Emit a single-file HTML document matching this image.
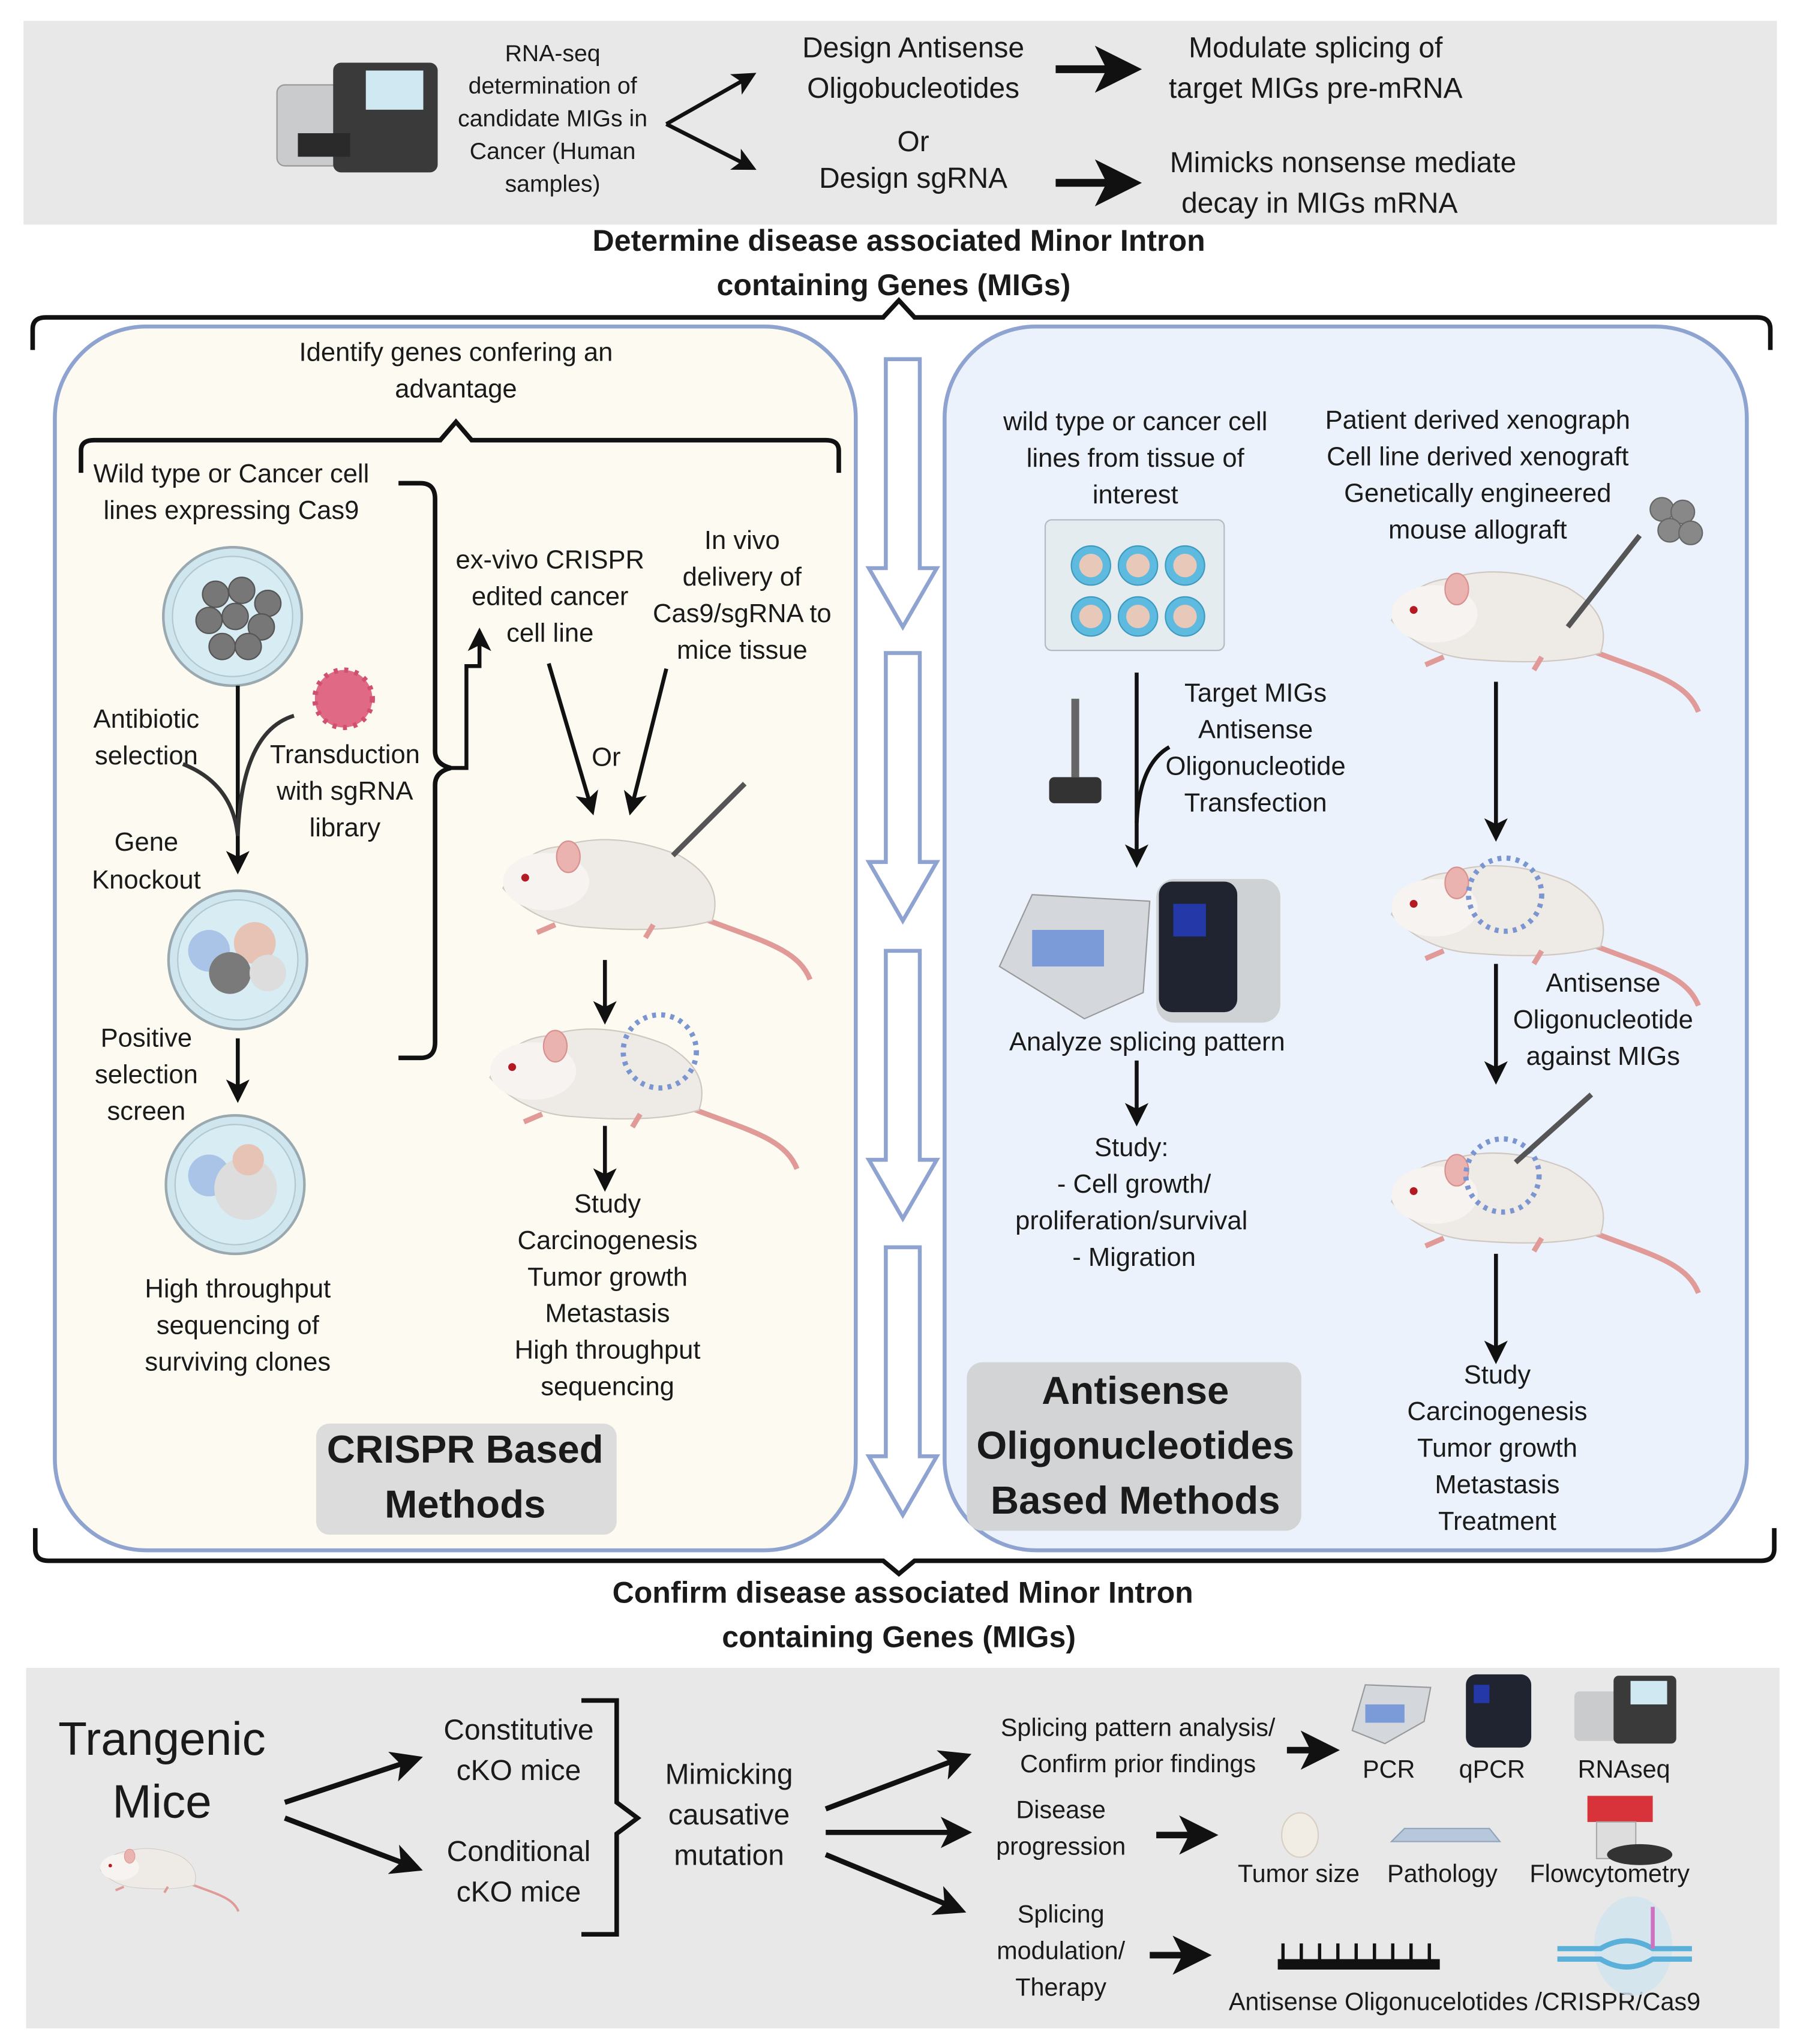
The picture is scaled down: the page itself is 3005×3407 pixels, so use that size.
<!DOCTYPE html>
<html><head><meta charset="utf-8"><style>
html,body{margin:0;padding:0;background:#fff}
svg{display:block}
text{font-family:"Liberation Sans",sans-serif;fill:#1a1a1a;dominant-baseline:middle;text-anchor:middle}
</style></head><body>
<svg width="3005" height="3407" viewBox="0 0 1380 1565" preserveAspectRatio="none" xmlns="http://www.w3.org/2000/svg">
<defs>
<marker id="ah" markerWidth="6" markerHeight="6" refX="4.5" refY="3" orient="auto" markerUnits="strokeWidth"><path d="M0,0 L6,3 L0,6 L1.5,3Z" fill="#111"/></marker>
<g id="mouse">
<path d="M60,20 C110,40 140,45 150,70" stroke="#e09a98" stroke-width="4" fill="none"/>
<path d="M-85,0 Q-70,-30 -40,-32 Q0,-45 50,-25 Q85,-5 75,25 Q40,35 -20,30 Q-60,28 -85,0Z" fill="#eeeae6" stroke="#d0c8c0"/>
<ellipse cx="-52" cy="-5" rx="33" ry="22" fill="#f6f3f0"/>
<ellipse cx="-35" cy="-24" rx="9" ry="12" fill="#eab3b0" stroke="#d8918e"/>
<circle cx="-68" cy="-8" r="3" fill="#b41a22"/>
<path d="M-45,28 l-14,6 M30,28 l-6,10" stroke="#e09a98" stroke-width="4"/>
</g>
<g id="dish">
<circle r="53" fill="#cfe6ef" stroke="#9aa9b0" stroke-width="2"/>
<circle r="46" fill="#d7ecf3" stroke="#b3c7cf" stroke-width="1"/>
</g>
<g id="hollow">
<path d="M13,0 H39 V160 H52 L26,205 L0,160 H13 Z" fill="#fff" stroke="#8fa3d0" stroke-width="3"/>
</g>
</defs>

<rect x="18" y="16" width="1342" height="156" fill="#e8e8e8"/>
<rect x="212" y="65" width="70" height="62" fill="#c9cbcd" stroke="#999" rx="6"/>
<rect x="255" y="48" width="80" height="84" fill="#3a3a3a" rx="6"/>
<rect x="280" y="54" width="44" height="30" fill="#cfe8f2"/>
<rect x="228" y="102" width="40" height="18" fill="#2a2a2a"/>
<g font-size="18">
<text x="423" y="42">RNA-seq</text><text x="423" y="67">determination of</text><text x="423" y="92">candidate MIGs in</text><text x="423" y="117">Cancer (Human</text><text x="423" y="142">samples)</text>
</g>
<g stroke="#111" stroke-width="3" marker-end="url(#ah)"><line x1="510" y1="95" x2="575" y2="58"/><line x1="510" y1="95" x2="575" y2="128"/></g>
<g font-size="22">
<text x="699" y="38">Design Antisense</text><text x="699" y="69">Oligobucleotides</text><text x="699" y="110">Or</text><text x="699" y="138">Design sgRNA</text>
<text x="1007" y="38">Modulate splicing of</text><text x="1007" y="69">target MIGs pre-mRNA</text>
<text x="1028" y="126">Mimicks nonsense mediate</text><text x="1010" y="157">decay in MIGs mRNA</text>
</g>
<g stroke="#111" stroke-width="6" marker-end="url(#ah)"><line x1="808" y1="53" x2="865" y2="53"/><line x1="808" y1="140" x2="865" y2="140"/></g>
<g font-size="23" font-weight="bold"><text x="688" y="186">Determine disease associated Minor Intron</text><text x="684" y="220">containing Genes (MIGs)</text></g>
<path d="M25,268 V252 Q25,243 35,243 H676 L688,230 L700,243 H1345 Q1355,243 1355,252 V268" fill="none" stroke="#111" stroke-width="3.5"/>

<rect x="42" y="250" width="613" height="937" rx="70" fill="#fdfbf1" stroke="#8fa3d0" stroke-width="3"/>
<rect x="723" y="250" width="614" height="937" rx="70" fill="#ecf2fb" stroke="#8fa3d0" stroke-width="3"/>
<use href="#hollow" x="665" y="275"/><use href="#hollow" x="665" y="500"/><use href="#hollow" x="665" y="728"/><use href="#hollow" x="665" y="955"/>

<g font-size="20">
<text x="349" y="271">Identify genes confering an</text><text x="349" y="299">advantage</text>
<text x="177" y="364">Wild type or Cancer cell</text><text x="177" y="392">lines expressing Cas9</text>
<text x="112" y="552">Antibiotic</text><text x="112" y="580">selection</text>
<text x="264" y="579">Transduction</text><text x="264" y="607">with sgRNA</text><text x="264" y="635">library</text>
<text x="112" y="646">Gene</text><text x="112" y="675">Knockout</text>
<text x="112" y="796">Positive</text><text x="112" y="824">selection</text><text x="112" y="852">screen</text>
<text x="182" y="988">High throughput</text><text x="182" y="1016">sequencing  of</text><text x="182" y="1044">surviving clones</text>
<text x="421" y="430">ex-vivo CRISPR</text><text x="421" y="458">edited cancer</text><text x="421" y="486">cell line</text>
<text x="568" y="415">In vivo</text><text x="568" y="443">delivery of</text><text x="568" y="471">Cas9/sgRNA to</text><text x="568" y="499">mice tissue</text>
<text x="464" y="581">Or</text>
<text x="465" y="923">Study</text><text x="465" y="951">Carcinogenesis</text><text x="465" y="979">Tumor growth</text><text x="465" y="1007">Metastasis</text><text x="465" y="1035">High throughput</text><text x="465" y="1063">sequencing</text>
</g>
<path d="M62,362 V345 Q62,337 72,337 H337 L349,323 L361,337 H632 Q642,337 642,345 V362" fill="none" stroke="#111" stroke-width="3.5"/>
<path d="M305,370 H322 Q333,370 333,382 V575 Q333,585 345,588 Q333,591 333,601 V798 Q333,810 322,810 H305" fill="none" stroke="#111" stroke-width="3.5"/>
<path d="M345,588 H357 V510 H367 V485" fill="none" stroke="#111" stroke-width="3" marker-end="url(#ah)"/>
<use href="#dish" x="178" y="472"/>
<g fill="#777" stroke="#555"><circle cx="165" cy="455" r="10"/><circle cx="185" cy="452" r="10"/><circle cx="205" cy="462" r="10"/><circle cx="160" cy="475" r="10"/><circle cx="180" cy="472" r="10"/><circle cx="200" cy="480" r="10"/><circle cx="170" cy="495" r="10"/><circle cx="190" cy="495" r="10"/></g>
<use href="#dish" x="182" y="735"/><circle cx="160" cy="728" r="16" fill="#a9c4e6"/><circle cx="195" cy="722" r="16" fill="#e6c3b5"/><circle cx="176" cy="745" r="16" fill="#7a7a7a"/><circle cx="205" cy="745" r="14" fill="#ddd"/>
<use href="#dish" x="180" y="907"/><circle cx="160" cy="900" r="16" fill="#a9c4e6"/><circle cx="188" cy="910" r="24" fill="#ddd"/><circle cx="190" cy="888" r="12" fill="#e6c3b5"/>
<circle cx="263" cy="535" r="22" fill="#e06a86" stroke="#d0506e" stroke-width="4" stroke-dasharray="3 5"/>
<path d="M182,525 V665" stroke="#111" stroke-width="3" marker-end="url(#ah)"/>
<path d="M225,548 Q185,560 182,640 M140,585 Q178,600 182,640" stroke="#333" stroke-width="3" fill="none"/>
<path d="M182,795 V840" stroke="#111" stroke-width="3" marker-end="url(#ah)"/>
<g stroke="#111" stroke-width="3" marker-end="url(#ah)"><line x1="420" y1="508" x2="453" y2="620"/><line x1="510" y1="512" x2="483" y2="620"/><line x1="463" y1="735" x2="463" y2="780"/><line x1="463" y1="862" x2="463" y2="908"/></g>
<use href="#mouse" x="470" y="680"/>
<line x1="515" y1="655" x2="570" y2="600" stroke="#555" stroke-width="4"/>
<use href="#mouse" x="460" y="825"/>
<circle cx="505" cy="805" r="28" fill="none" stroke="#7b95d0" stroke-width="4" stroke-dasharray="3 4"/>
<rect x="242" y="1090" width="230" height="85" rx="10" fill="#dcdcdc"/>
<g font-size="30" font-weight="bold"><text x="356" y="1112">CRISPR Based</text><text x="356" y="1154">Methods</text></g>

<g font-size="20">
<text x="869" y="324">wild type or cancer cell</text><text x="869" y="352">lines from tissue of</text><text x="869" y="380">interest</text>
<text x="1131" y="323">Patient derived xenograph</text><text x="1131" y="351">Cell line derived xenograft</text><text x="1131" y="379">Genetically engineered</text><text x="1131" y="407">mouse allograft</text>
<text x="961" y="532">Target MIGs</text><text x="961" y="560">Antisense</text><text x="961" y="588">Oligonucleotide</text><text x="961" y="616">Transfection</text>
<text x="878" y="799">Analyze splicing pattern</text>
<text x="866" y="880">Study:</text><text x="868" y="908">- Cell growth/</text><text x="866" y="936">proliferation/survival</text><text x="868" y="964">- Migration</text>
<text x="1227" y="754">Antisense</text><text x="1227" y="782">Oligonucleotide</text><text x="1227" y="810">against  MIGs</text>
<text x="1146" y="1054">Study</text><text x="1146" y="1082">Carcinogenesis</text><text x="1146" y="1110">Tumor growth</text><text x="1146" y="1138">Metastasis</text><text x="1146" y="1166">Treatment</text>
</g>
<rect x="800" y="398" width="137" height="100" rx="5" fill="#e4ecef" stroke="#b0bcc2"/>
<g fill="#5fbadf" stroke="#3d9bc0"><circle cx="835" cy="433" r="15"/><circle cx="871" cy="433" r="15"/><circle cx="907" cy="433" r="15"/><circle cx="835" cy="472" r="15"/><circle cx="871" cy="472" r="15"/><circle cx="907" cy="472" r="15"/></g>
<g fill="#e8c8b8"><circle cx="835" cy="433" r="9"/><circle cx="871" cy="433" r="9"/><circle cx="907" cy="433" r="9"/><circle cx="835" cy="472" r="9"/><circle cx="871" cy="472" r="9"/><circle cx="907" cy="472" r="9"/></g>
<path d="M870,515 V660" stroke="#111" stroke-width="3" marker-end="url(#ah)"/>
<path d="M895,572 Q872,585 870,630" stroke="#111" stroke-width="3" fill="none"/>
<rect x="820" y="535" width="6" height="60" fill="#666"/><rect x="803" y="595" width="40" height="20" rx="4" fill="#333"/>
<path d="M765,740 L790,685 L880,690 L875,760 L830,780 Z" fill="#d4d8dc" stroke="#999"/>
<rect x="790" y="712" width="55" height="28" fill="#7a9ad8"/>
<rect x="885" y="673" width="95" height="110" rx="14" fill="#cfd2d4"/><rect x="887" y="675" width="60" height="100" rx="10" fill="#1f2430"/><rect x="898" y="692" width="25" height="25" fill="#2438a8"/>
<path d="M870,812 V858" stroke="#111" stroke-width="3" marker-end="url(#ah)"/>
<rect x="740" y="1043" width="256" height="129" rx="12" fill="#d2d4d6"/>
<g font-size="30" font-weight="bold"><text x="869" y="1067">Antisense</text><text x="869" y="1109">Oligonucleotides</text><text x="869" y="1151">Based Methods</text></g>
<use href="#mouse" x="1150" y="475"/>
<line x1="1200" y1="480" x2="1255" y2="410" stroke="#555" stroke-width="4"/>
<g fill="#888" stroke="#666"><circle cx="1272" cy="390" r="9"/><circle cx="1288" cy="392" r="9"/><circle cx="1278" cy="406" r="9"/><circle cx="1294" cy="408" r="9"/></g>
<use href="#mouse" x="1150" y="700"/><circle cx="1152" cy="685" r="28" fill="none" stroke="#7b95d0" stroke-width="4" stroke-dasharray="3 4"/>
<use href="#mouse" x="1150" y="920"/><circle cx="1150" cy="900" r="28" fill="none" stroke="#7b95d0" stroke-width="4" stroke-dasharray="3 4"/>
<line x1="1160" y1="890" x2="1218" y2="838" stroke="#555" stroke-width="4"/>
<g stroke="#111" stroke-width="3" marker-end="url(#ah)"><line x1="1145" y1="522" x2="1145" y2="640"/><line x1="1145" y1="738" x2="1145" y2="826"/><line x1="1145" y1="960" x2="1145" y2="1040"/></g>

<path d="M27,1170 V1186 Q27,1195 37,1195 H676 L688,1205 L700,1195 H1348 Q1358,1195 1358,1186 V1170" fill="none" stroke="#111" stroke-width="3.5"/>
<g font-size="23" font-weight="bold"><text x="691" y="1221">Confirm disease associated Minor Intron</text><text x="688" y="1255">containing Genes (MIGs)</text></g>

<rect x="20" y="1277" width="1342" height="276" fill="#e8e8e8"/>
<g font-size="36"><text x="124" y="1334">Trangenic</text><text x="124" y="1382">Mice</text></g>
<g transform="translate(115,1432) scale(0.45)"><use href="#mouse"/></g>
<g stroke="#111" stroke-width="4" marker-end="url(#ah)"><line x1="218" y1="1380" x2="318" y2="1347"/><line x1="218" y1="1392" x2="318" y2="1430"/>
<line x1="632" y1="1385" x2="738" y2="1345"/><line x1="632" y1="1403" x2="738" y2="1403"/><line x1="632" y1="1420" x2="734" y2="1462"/></g>
<g font-size="22">
<text x="397" y="1326">Constitutive</text><text x="397" y="1357">cKO mice</text><text x="397" y="1419">Conditional</text><text x="397" y="1450">cKO mice</text>
<text x="558" y="1360">Mimicking</text><text x="558" y="1391">causative</text><text x="558" y="1422">mutation</text>
</g>
<path d="M445,1302 H472 V1380 L488,1392 L472,1404 V1481 H445" fill="none" stroke="#111" stroke-width="3.5"/>
<g font-size="19">
<text x="871" y="1324">Splicing pattern analysis/</text><text x="871" y="1352">Confirm prior findings</text>
<text x="812" y="1387">Disease</text><text x="812" y="1415">progression</text>
<text x="812" y="1467">Splicing</text><text x="812" y="1495">modulation/</text><text x="812" y="1523">Therapy</text>
<text x="1063" y="1356">PCR</text><text x="1142" y="1356">qPCR</text><text x="1243" y="1356">RNAseq</text>
<text x="994" y="1436">Tumor size</text><text x="1104" y="1436">Pathology</text><text x="1232" y="1436">Flowcytometry</text>
<text x="1121" y="1534">Antisense Oligonucelotides /CRISPR/Cas9</text>
</g>
<g stroke="#111" stroke-width="5" marker-end="url(#ah)"><line x1="985" y1="1340" x2="1018" y2="1340"/><line x1="885" y1="1405" x2="925" y2="1405"/><line x1="880" y1="1497" x2="920" y2="1497"/></g>
<path d="M1035,1325 L1045,1290 L1095,1292 L1090,1318 L1060,1335 Z" fill="#d4d8dc" stroke="#999"/><rect x="1045" y="1305" width="30" height="14" fill="#7a9ad8"/>
<rect x="1122" y="1282" width="50" height="56" rx="8" fill="#1f2430"/><rect x="1128" y="1290" width="12" height="14" fill="#2438a8"/>
<rect x="1205" y="1295" width="40" height="38" rx="4" fill="#c9cbcd"/><rect x="1235" y="1283" width="48" height="52" rx="4" fill="#3a3a3a"/><rect x="1248" y="1287" width="28" height="18" fill="#cfe8f2"/>
<ellipse cx="995" cy="1405" rx="14" ry="17" fill="#f1ece4" stroke="#d8cfc2"/>
<path d="M1065,1410 L1075,1400 H1140 L1148,1410 Z" fill="#b7c8dc" stroke="#90a4bc"/>
<rect x="1215" y="1375" width="50" height="20" fill="#d8323a"/><rect x="1222" y="1395" width="30" height="28" fill="#ddd" stroke="#aaa"/><ellipse cx="1255" cy="1420" rx="25" ry="8" fill="#333"/>
<rect x="978" y="1500" width="124" height="8" fill="#111"/>
<g stroke="#111" stroke-width="2.5"><line x1="982" y1="1488" x2="982" y2="1502"/><line x1="996" y1="1488" x2="996" y2="1502"/><line x1="1010" y1="1488" x2="1010" y2="1502"/><line x1="1024" y1="1488" x2="1024" y2="1502"/><line x1="1038" y1="1488" x2="1038" y2="1502"/><line x1="1052" y1="1488" x2="1052" y2="1502"/><line x1="1066" y1="1488" x2="1066" y2="1502"/><line x1="1080" y1="1488" x2="1080" y2="1502"/><line x1="1094" y1="1488" x2="1094" y2="1502"/></g>
<ellipse cx="1250" cy="1490" rx="30" ry="38" fill="#cfe3ee" opacity="0.8"/>
<path d="M1192,1492 H1225 Q1245,1480 1265,1492 H1295 M1192,1500 H1225 Q1245,1512 1265,1500 H1295" stroke="#5ab0d8" stroke-width="4" fill="none"/>
<line x1="1265" y1="1460" x2="1265" y2="1492" stroke="#d070c0" stroke-width="3"/>
</svg>
</body></html>
